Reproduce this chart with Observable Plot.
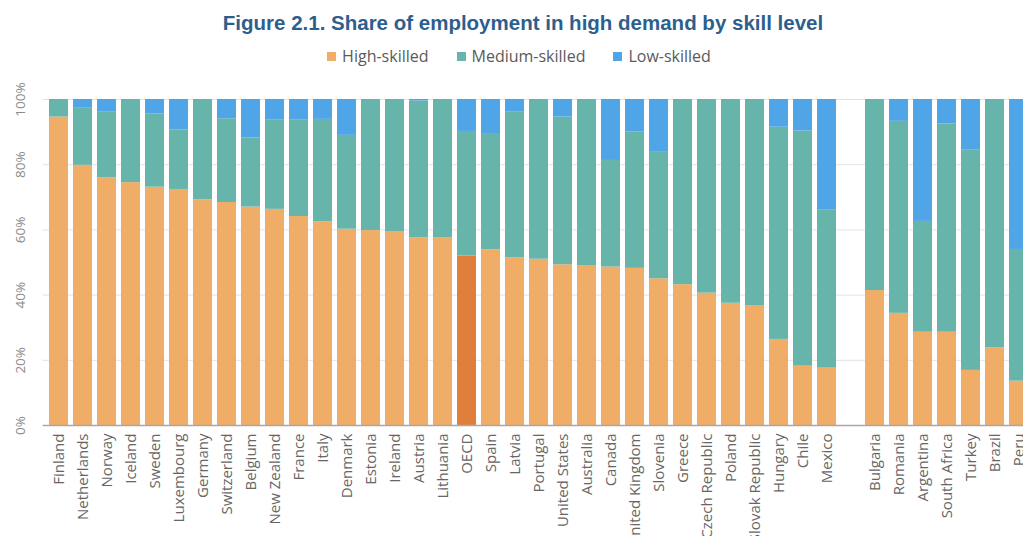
<!DOCTYPE html>
<html>
<head>
<meta charset="utf-8">
<script src="https://cdn.jsdelivr.net/npm/d3@7"></script>
<script src="https://cdn.jsdelivr.net/npm/@observablehq/plot@0.6"></script>
<style>
  html, body { margin: 0; padding: 0; background: #fff; overflow: hidden; width: 1023px; height: 536px; }
  #title { position: absolute; top: 11px; left: 0; width: 1046px; text-align: center;
           font-family: "Liberation Sans", Arial, sans-serif; font-weight: bold; font-size: 20.5px; color: #2d5f8e; }
  #legend { position: absolute; top: 45px; left: 0; width: 1038px; display: flex; justify-content: center; gap: 28px;
            font-family: "Open Sans", sans-serif; font-size: 16px; color: #5a5a5a; }
  #legend span.item { display: flex; align-items: center; }
  #legend span.sw { display: inline-block; width: 9px; height: 9px; margin-right: 6px; }
  #chart { position: absolute; top: 80px; left: 0; width: 1040px; }
  #chart svg { max-width: none !important; }
</style>
</head>
<body>
<div id="title">Figure 2.1. Share of employment in high demand by skill level</div>
<div id="legend"></div>
<div id="chart"></div>
<script>
const oecdCountries = ["Finland","Netherlands","Norway","Iceland","Sweden","Luxembourg","Germany","Switzerland","Belgium","New Zealand","France","Italy","Denmark","Estonia","Ireland","Austria","Lithuania","OECD","Spain","Latvia","Portugal","United States","Australia","Canada","United Kingdom","Slovenia","Greece","Czech Republic","Poland","Slovak Republic","Hungary","Chile","Mexico"];
const partnerCountries = ["Bulgaria","Romania","Argentina","South Africa","Turkey","Brazil","Peru"];
const countries = [...oecdCountries, ...partnerCountries];

const high   = [94.6,79.8,76.0,74.5,73.1,72.4,69.2,68.4,67.0,66.3,64.1,62.5,60.2,59.8,59.5,57.6,57.5,52.0,53.9,51.4,51.0,49.3,48.9,48.6,48.2,45.0,43.2,40.6,37.5,36.8,26.4,18.2,17.6, 41.4,34.4,28.6,28.6,16.9,23.8,13.6];
const medium = [5.4,17.7,20.1,25.5,22.5,18.3,30.8,25.7,21.2,27.5,29.7,31.4,28.8,40.2,40.5,41.9,42.5,38.2,35.4,44.7,49.0,45.3,51.1,32.7,41.8,38.8,56.8,59.4,62.5,63.2,65.1,72.1,48.6, 58.6,58.9,34.0,63.9,67.7,76.2,40.4];
const low    = [0,2.5,3.9,0,4.4,9.3,0,5.9,11.8,6.2,6.2,6.1,11.0,0,0,0.5,0,9.8,10.7,3.9,0,5.4,0,18.7,10.0,16.2,0,0,0,0,8.5,9.7,33.8, 0,6.7,37.4,7.5,15.4,0,46.0];

const skills = ["High-skilled","Medium-skilled","Low-skilled"];
const skillColors = ["#f0ad67","#67b5aa","#50a5e6"];
const oecdHighColor = "#e07f3c";
const yTicks = [0,20,40,60,80,100];
const gapKey = " ";

const rows = [];
countries.forEach((c, i) => {
  [high[i], medium[i], low[i]].forEach((v, k) => {
    rows.push({country: c, skill: skills[k], value: v,
      color: (c === "OECD" && k === 0) ? oecdHighColor : skillColors[k]});
  });
});
const domain = [...oecdCountries, gapKey, ...partnerCountries];

// legend
const lg = document.getElementById("legend");
skills.forEach((s, k) => {
  const it = document.createElement("span"); it.className = "item";
  const sw = document.createElement("span"); sw.className = "sw"; sw.style.background = skillColors[k];
  it.appendChild(sw); it.appendChild(document.createTextNode(s)); lg.appendChild(it);
});

const chart = Plot.plot({
  width: 1034,
  height: 470,
  marginLeft: 42.6,
  marginRight: 0,
  marginTop: 19,
  marginBottom: 125,
  style: {fontFamily: "Open Sans, sans-serif", fontSize: "13px", background: "white", maxWidth: "none"},
  x: {domain, paddingInner: 0.2, paddingOuter: 0.1, axis: null},
  y: {domain: [0, 100], axis: null},
  color: {type: "identity"},
  marks: [
    Plot.gridY(yTicks.slice(1), {stroke: "#e3e3e3", strokeOpacity: 1}),
    Plot.barY(rows, {x: "country", y: "value", z: "skill", fill: "color", order: null}),
    Plot.ruleY([0], {stroke: "#a9a9a9", strokeWidth: 1.5}),
    Plot.axisX({tickRotate: -90, tickSize: 0, tickPadding: 8, fontSize: 15, fill: "#666",
                tickFormat: d => d.trim()}),
    Plot.text(yTicks, {y: d => d, text: d => d + "%", frameAnchor: "left", dx: -22, rotate: -90,
                       fill: "#8a8a8a", fontSize: 13.5, textAnchor: "middle"})
  ]
});
document.getElementById("chart").appendChild(chart);
</script>
</body>
</html>
